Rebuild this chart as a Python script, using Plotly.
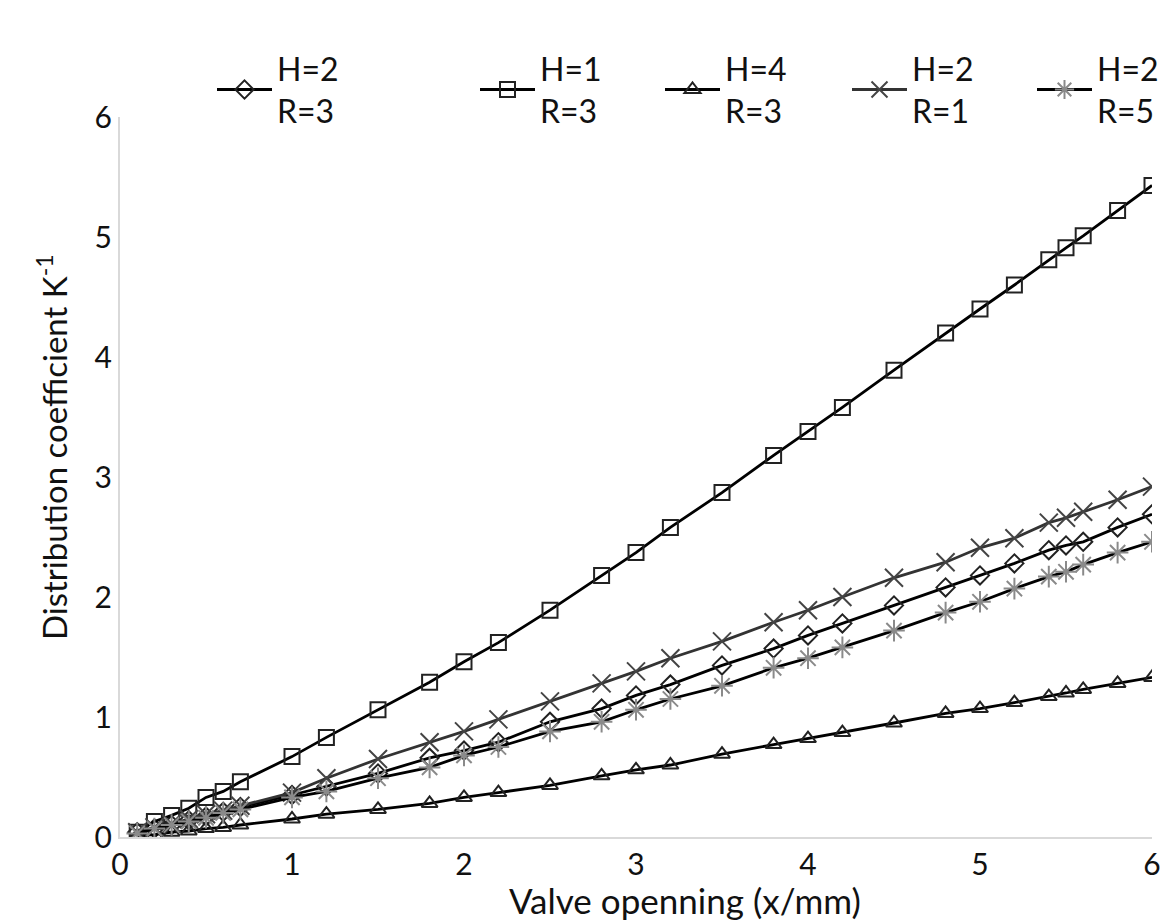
import plotly.graph_objects as go

x_vals = [0.1, 0.2, 0.3, 0.4, 0.5, 0.6, 0.7, 1.0, 1.2, 1.5, 1.8, 2.0, 2.2, 2.5, 2.8,
          3.0, 3.2, 3.5, 3.8, 4.0, 4.2, 4.5, 4.8, 5.0, 5.2, 5.4, 5.5, 5.6, 5.8, 6.0]

h2_r3 = [0.04, 0.07, 0.10, 0.14, 0.17, 0.21, 0.25, 0.35, 0.42, 0.53, 0.66, 0.72, 0.79, 0.96, 1.07,
         1.18, 1.27, 1.43, 1.57, 1.68, 1.78, 1.93, 2.08, 2.18, 2.28, 2.39, 2.43, 2.46, 2.58, 2.69]
h1_r3 = [0.04, 0.13, 0.18, 0.24, 0.33, 0.38, 0.46, 0.67, 0.83, 1.06, 1.29, 1.46, 1.62, 1.89, 2.18,
         2.37, 2.58, 2.87, 3.18, 3.38, 3.58, 3.89, 4.20, 4.40, 4.60, 4.81, 4.91, 5.01, 5.22, 5.43]
h4_r3 = [0.01, 0.02, 0.04, 0.05, 0.07, 0.08, 0.10, 0.15, 0.19, 0.23, 0.28, 0.33, 0.37, 0.43, 0.51,
         0.56, 0.60, 0.69, 0.77, 0.82, 0.87, 0.95, 1.03, 1.07, 1.12, 1.17, 1.20, 1.23, 1.28, 1.33]
h2_r1 = [0.04, 0.08, 0.11, 0.15, 0.19, 0.22, 0.26, 0.37, 0.49, 0.65, 0.79, 0.88, 0.98, 1.13, 1.28,
         1.38, 1.49, 1.63, 1.79, 1.89, 2.00, 2.16, 2.29, 2.41, 2.49, 2.62, 2.66, 2.71, 2.81, 2.92]
h2_r5 = [0.03, 0.07, 0.10, 0.13, 0.16, 0.20, 0.23, 0.33, 0.38, 0.49, 0.58, 0.68, 0.75, 0.88, 0.96,
         1.06, 1.15, 1.26, 1.41, 1.49, 1.58, 1.72, 1.87, 1.96, 2.07, 2.17, 2.21, 2.27, 2.37, 2.46]

names = ["H=2<br>R=3", "H=1<br>R=3", "H=4<br>R=3", "H=2<br>R=1", "H=2<br>R=5"]
series = [h2_r3, h1_r3, h4_r3, h2_r1, h2_r5]
symbols = ["diamond-open", "square-open", "triangle-up-open", "x-thin-open", "asterisk-open"]
line_colors = ["#000000", "#000000", "#000000", "#333333", "#000000"]
marker_colors = ["#222222", "#222222", "#222222", "#444444", "#8a8a8a"]
marker_sizes = [14, 15, 14, 18, 18]

x_title = "Valve openning (x/mm)"
y_title = "Distribution coefficient K<sup>-1</sup>"

FONT = "Lato, Carlito, 'Liberation Sans', sans-serif"

# each legend entry gets its own legend box so it can sit where the reference puts it
legend_ids = ["legend", "legend2", "legend3", "legend4", "legend5"]
legend_left_px = [212, 475, 660, 847, 1032]

fig = go.Figure()
for name, ys, sym, lc, mc, ms, lid in zip(names, series, symbols, line_colors,
                                           marker_colors, marker_sizes, legend_ids):
    fig.add_trace(go.Scatter(
        x=x_vals, y=ys, mode="lines+markers", name=name, legend=lid,
        line=dict(color=lc, width=2.8),
        marker=dict(symbol=sym, size=ms, color=mc, line=dict(color=mc, width=2)),
    ))

legend_layout = {}
for lid, left in zip(legend_ids, legend_left_px):
    legend_layout[lid] = dict(
        orientation="v", x=(left - 120) / 1032, y=1.105, xanchor="left", yanchor="top",
        valign="middle", itemwidth=55, font=dict(size=32, color="#111111"),
        bgcolor="rgba(0,0,0,0)")

fig.update_layout(
    width=1164, height=922,
    margin=dict(l=120, r=12, t=117, b=85, autoexpand=False),
    plot_bgcolor="white", paper_bgcolor="white",
    showlegend=True,
    font=dict(family=FONT, color="#111111", size=28),
    **legend_layout,
)
fig.update_xaxes(range=[0, 6], tickvals=[0, 1, 2, 3, 4, 5, 6], showgrid=False,
                 zeroline=False, showline=True, linecolor="#d9d9d9", linewidth=2,
                 ticks="", tickfont=dict(size=30))
fig.update_yaxes(range=[0, 6], tickvals=[0, 1, 2, 3, 4, 5, 6], showgrid=False,
                 zeroline=False, showline=True, linecolor="#d9d9d9", linewidth=2,
                 ticks="", tickfont=dict(size=30))

# axis titles placed where the reference puts them
fig.add_annotation(text=x_title, xref="paper", yref="paper",
                   x=(685 - 120) / 1032, y=-(900 - 837) / 720,
                   xanchor="center", yanchor="middle", showarrow=False,
                   font=dict(size=35, color="#111111"))
fig.add_annotation(text=y_title, xref="paper", yref="paper",
                   x=-(120 - 52) / 1032, y=(837 - 447) / 720,
                   xanchor="center", yanchor="middle", showarrow=False, textangle=-90,
                   font=dict(size=33, color="#111111"))

fig.write_html("out.html")
